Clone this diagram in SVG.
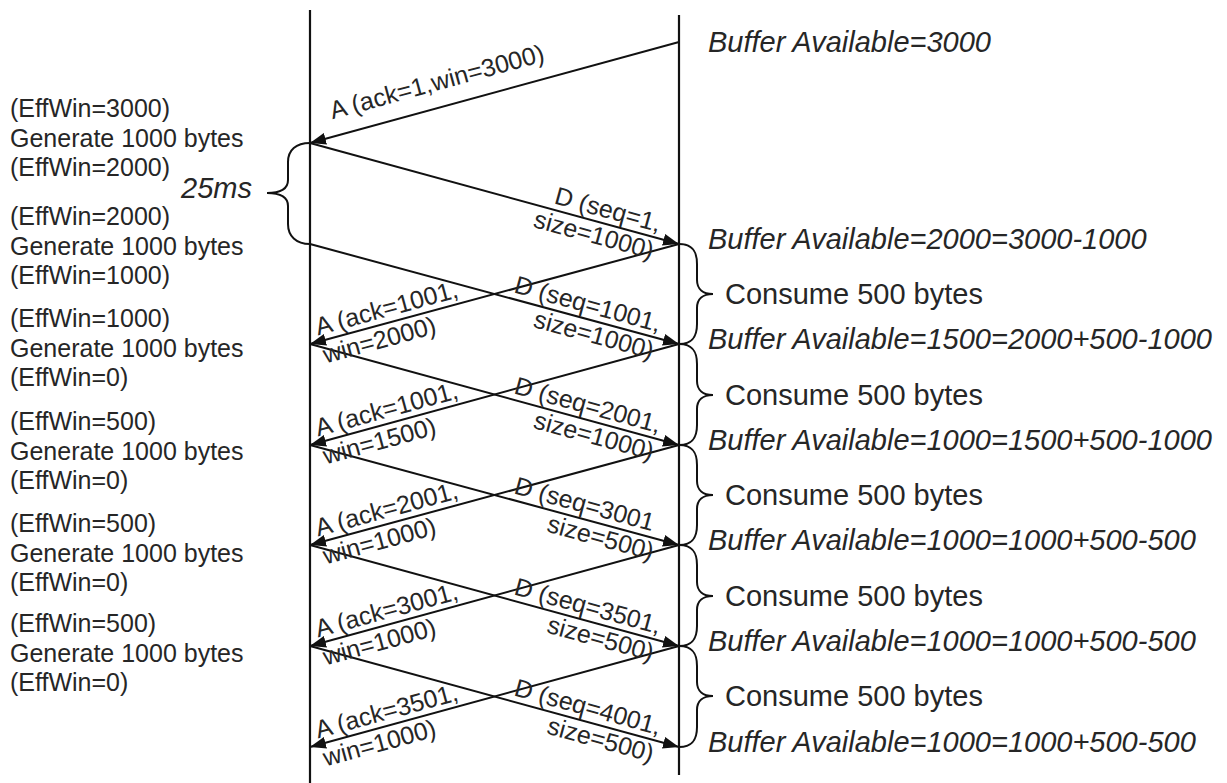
<svg xmlns="http://www.w3.org/2000/svg" width="1227" height="783" viewBox="0 0 1227 783">
<style>
.life{stroke:#111;stroke-width:2.2;fill:none}
.msg{stroke:#111;stroke-width:2;fill:none;marker-end:url(#ah)}
.brace{stroke:#111;stroke-width:2;fill:none}
.lt{font-family:"Liberation Sans",Arial,sans-serif;font-size:25px;fill:#262626}
.rt{font-family:"Liberation Sans",Arial,sans-serif;font-size:29px;fill:#262626}
.it{font-style:italic}
.lbl{font-family:"Liberation Sans",Arial,sans-serif;font-size:25px;fill:#262626}
.end{text-anchor:end}
</style>
<defs>
<marker id="ah" markerUnits="userSpaceOnUse" markerWidth="18" markerHeight="12" refX="16" refY="6" orient="auto">
<path d="M0,0 L16,6 L0,12 z" fill="#111"/>
</marker>
</defs>
<rect width="1227" height="783" fill="#fff"/>

<g id="sender">
<line class="life" x1="310" y1="10" x2="310" y2="783"/>
<text class="lt" x="10" y="117">(EffWin=3000)</text>
<text class="lt" x="10" y="146.5">Generate 1000 bytes</text>
<text class="lt" x="10" y="176">(EffWin=2000)</text>
<text class="lt" x="10" y="225">(EffWin=2000)</text>
<text class="lt" x="10" y="254.5">Generate 1000 bytes</text>
<text class="lt" x="10" y="284">(EffWin=1000)</text>
<text class="lt" x="10" y="327">(EffWin=1000)</text>
<text class="lt" x="10" y="356.5">Generate 1000 bytes</text>
<text class="lt" x="10" y="386">(EffWin=0)</text>
<text class="lt" x="10" y="430">(EffWin=500)</text>
<text class="lt" x="10" y="459.5">Generate 1000 bytes</text>
<text class="lt" x="10" y="489">(EffWin=0)</text>
<text class="lt" x="10" y="532">(EffWin=500)</text>
<text class="lt" x="10" y="561.5">Generate 1000 bytes</text>
<text class="lt" x="10" y="591">(EffWin=0)</text>
<text class="lt" x="10" y="632">(EffWin=500)</text>
<text class="lt" x="10" y="661.5">Generate 1000 bytes</text>
<text class="lt" x="10" y="691">(EffWin=0)</text>
</g>

<g id="delay">
<path class="brace" d="M310,143 C296,143 288,150 288,162 L288,180 C288,188 282,193 267,193 C282,193 288,198 288,206 L288,224 C288,236 296,244 310,244"/>
<text class="rt it" x="181" y="198">25ms</text>
</g>

<g id="receiver">
<line class="life" x1="679" y1="15" x2="679" y2="775"/>
<text class="rt it" x="708" y="52">Buffer Available=3000</text>
<text class="rt it" x="708" y="249">Buffer Available=2000=3000-1000</text>
<text class="rt it" x="708" y="349">Buffer Available=1500=2000+500-1000</text>
<text class="rt it" x="708" y="450">Buffer Available=1000=1500+500-1000</text>
<text class="rt it" x="708" y="550">Buffer Available=1000=1000+500-500</text>
<text class="rt it" x="708" y="651">Buffer Available=1000=1000+500-500</text>
<text class="rt it" x="708" y="752">Buffer Available=1000=1000+500-500</text>
</g>

<g id="consume">
<path class="brace" d="M679,244 C693,244 697,252 697,264 L697,280 C697,289 703,294 713,294 C703,294 697,299 697,308 L697,324 C697,336 693,344 679,344"/>
<text class="rt" x="725" y="304">Consume 500 bytes</text>
<path class="brace" d="M679,344 C693,344 697,352 697,364 L697,381 C697,390 703,395 713,395 C703,395 697,400 697,409 L697,425 C697,437 693,445 679,445"/>
<text class="rt" x="725" y="405">Consume 500 bytes</text>
<path class="brace" d="M679,445 C693,445 697,453 697,465 L697,481 C697,490 703,495 713,495 C703,495 697,500 697,509 L697,525 C697,537 693,545 679,545"/>
<text class="rt" x="725" y="505">Consume 500 bytes</text>
<path class="brace" d="M679,545 C693,545 697,553 697,565 L697,582 C697,591 703,596 713,596 C703,596 697,601 697,610 L697,626 C697,638 693,646 679,646"/>
<text class="rt" x="725" y="606">Consume 500 bytes</text>
<path class="brace" d="M679,646 C693,646 697,654 697,666 L697,682 C697,691 703,696 713,696 C703,696 697,701 697,710 L697,727 C697,739 693,747 679,747"/>
<text class="rt" x="725" y="706">Consume 500 bytes</text>
</g>

<g id="connectors">
<line class="msg" x1="679" y1="42" x2="310" y2="143"/>
<line class="msg" x1="310" y1="143" x2="679" y2="244"/>
<line class="msg" x1="310" y1="244" x2="679" y2="344"/>
<line class="msg" x1="310" y1="344" x2="679" y2="445"/>
<line class="msg" x1="310" y1="445" x2="679" y2="545"/>
<line class="msg" x1="310" y1="545" x2="679" y2="646"/>
<line class="msg" x1="310" y1="646" x2="679" y2="747"/>
<line class="msg" x1="679" y1="244" x2="310" y2="344"/>
<line class="msg" x1="679" y1="344" x2="310" y2="445"/>
<line class="msg" x1="679" y1="445" x2="310" y2="545"/>
<line class="msg" x1="679" y1="545" x2="310" y2="646"/>
<line class="msg" x1="679" y1="646" x2="310" y2="747"/>

<g transform="translate(310,143) rotate(-15.3)"><text class="lbl" x="28" y="-17">A (ack=1,win=3000)</text></g>

<g transform="translate(679,244) rotate(15.3)"><text class="lbl end" x="-23" y="-6">D (seq=1,</text><text class="lbl end" x="-23" y="22">size=1000)</text></g>
<g transform="translate(679,344) rotate(15.3)"><text class="lbl end" x="-23" y="-6">D (seq=1001,</text><text class="lbl end" x="-23" y="22">size=1000)</text></g>
<g transform="translate(679,445) rotate(15.3)"><text class="lbl end" x="-23" y="-6">D (seq=2001,</text><text class="lbl end" x="-23" y="22">size=1000)</text></g>
<g transform="translate(679,545) rotate(15.3)"><text class="lbl end" x="-30" y="-6">D (seq=3001</text><text class="lbl end" x="-23" y="22">size=500)</text></g>
<g transform="translate(679,646) rotate(15.3)"><text class="lbl end" x="-23" y="-6">D (seq=3501,</text><text class="lbl end" x="-23" y="22">size=500)</text></g>
<g transform="translate(679,747) rotate(15.3)"><text class="lbl end" x="-23" y="-6">D (seq=4001,</text><text class="lbl end" x="-23" y="22">size=500)</text></g>

<g transform="translate(310,344) rotate(-15.3)"><text class="lbl" x="10" y="-6">A (ack=1001,</text><text class="lbl" x="10" y="23">win=2000)</text></g>
<g transform="translate(310,445) rotate(-15.3)"><text class="lbl" x="10" y="-6">A (ack=1001,</text><text class="lbl" x="10" y="23">win=1500)</text></g>
<g transform="translate(310,545) rotate(-15.3)"><text class="lbl" x="10" y="-6">A (ack=2001,</text><text class="lbl" x="10" y="23">win=1000)</text></g>
<g transform="translate(310,646) rotate(-15.3)"><text class="lbl" x="10" y="-6">A (ack=3001,</text><text class="lbl" x="10" y="23">win=1000)</text></g>
<g transform="translate(310,747) rotate(-15.3)"><text class="lbl" x="10" y="-6">A (ack=3501,</text><text class="lbl" x="10" y="23">win=1000)</text></g>
</g>
</svg>
